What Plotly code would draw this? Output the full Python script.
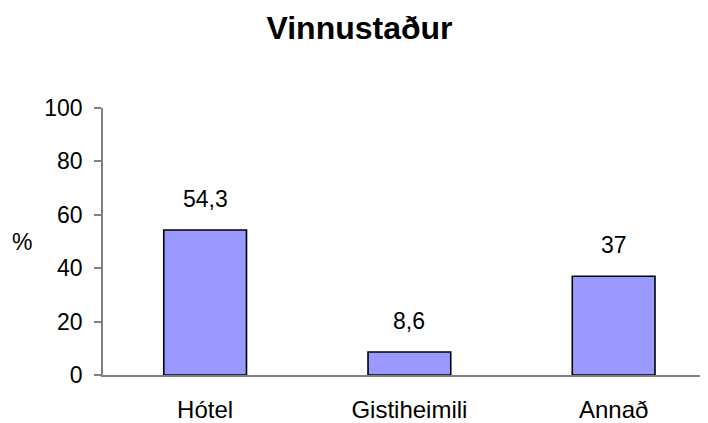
import plotly.graph_objects as go

categories = ["Hótel", "Gistiheimili", "Annað"]
values = [54.3, 8.6, 37]
value_labels = ["54,3", "8,6", "37"]
y_ticks = [0, 20, 40, 60, 80, 100]

W, H = 700, 415  # page body has an 8px margin
L, T, B = 95, 100, 44
plot_w = W - L

fig = go.Figure()
fig.add_trace(go.Bar(
    x=categories, y=values, width=0.405,
    marker=dict(color="#9999FF", line=dict(color="black", width=1.6)),
    hoverinfo="x+y",
))
for c, v, t in zip(categories, values, value_labels):
    fig.add_annotation(x=c, y=v, text=t, showarrow=False, yanchor="bottom",
                       yshift=16, font=dict(size=23, color="black"))
fig.update_layout(
    width=W, height=H,
    margin=dict(l=L, r=0, t=T, b=B),
    paper_bgcolor="white", plot_bgcolor="white",
    font=dict(family="Liberation Sans, Arial", size=23, color="black"),
    title=dict(text="<b>Vinnustaður</b>", x=351.5/W, xref="container", xanchor="center",
               y=1 - 20/H, yref="container", yanchor="middle",
               font=dict(size=32, color="black", family="Liberation Sans, Arial")),
    showlegend=False,
)
fig.update_xaxes(
    range=[-0.5, 2.462], showline=True, linecolor="#808080", linewidth=1.5,
    ticks="", showgrid=False, tickfont=dict(size=24), ticklabelstandoff=12,
)
fig.update_yaxes(
    range=[0, 100], tickvals=y_ticks, showline=True, linecolor="#808080", linewidth=1.5,
    ticks="outside", ticklen=7, tickcolor="#808080", tickwidth=1.5,
    showgrid=False, zeroline=False, tickfont=dict(size=23), ticklabelstandoff=7,
)
fig.add_annotation(text="%", xref="paper", yref="paper", x=-81/plot_w, y=0.5,
                   xanchor="center", yanchor="middle", showarrow=False,
                   font=dict(size=23, color="black"))
fig.write_html("out.html")
